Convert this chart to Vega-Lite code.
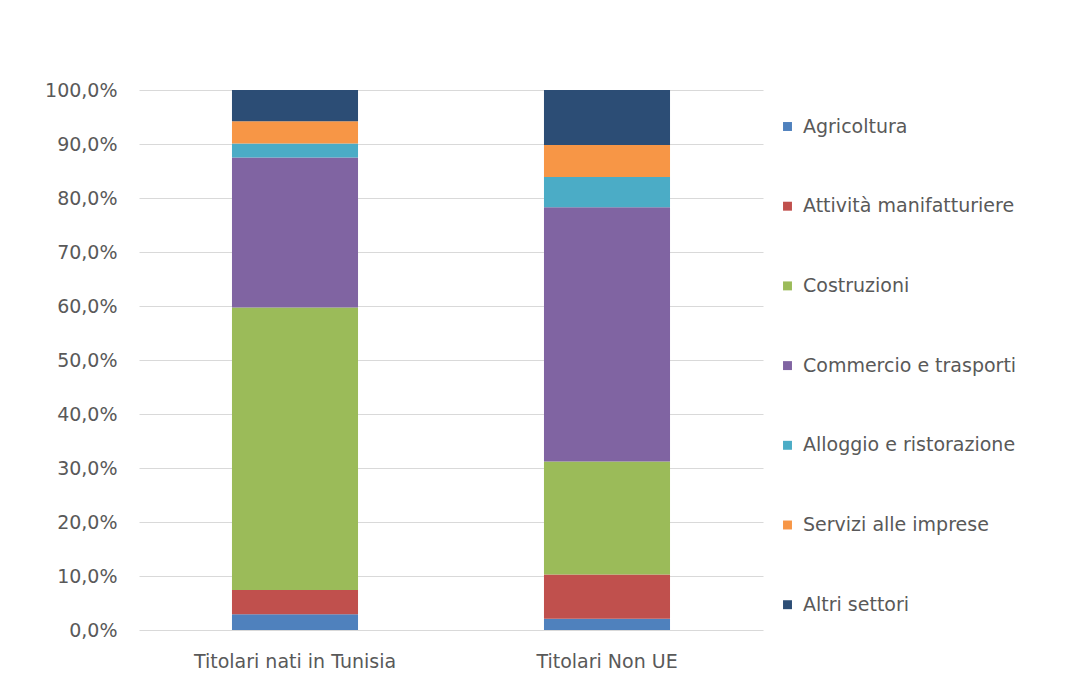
{
  "$schema": "https://vega.github.io/schema/vega-lite/v6.json",
  "width": 624,
  "height": 540,
  "autosize": {"type": "none"},
  "padding": {"left": 139, "top": 90, "right": 306, "bottom": 67},
  "background": "white",
  "config": {
    "font": "DejaVu Sans",
    "view": {"stroke": null},
    "axis": {"labelColor": "#595959", "labelFont": "DejaVu Sans", "labelFontSize": 19}
  },
  "data": {
    "values": [
      {"gruppo": "Titolari nati in Tunisia", "settore": "Agricoltura", "ordine": 1, "valore": 2.9},
      {"gruppo": "Titolari nati in Tunisia", "settore": "Attività manifatturiere", "ordine": 2, "valore": 4.5},
      {"gruppo": "Titolari nati in Tunisia", "settore": "Costruzioni", "ordine": 3, "valore": 52.3},
      {"gruppo": "Titolari nati in Tunisia", "settore": "Commercio e trasporti", "ordine": 4, "valore": 27.8},
      {"gruppo": "Titolari nati in Tunisia", "settore": "Alloggio e ristorazione", "ordine": 5, "valore": 2.6},
      {"gruppo": "Titolari nati in Tunisia", "settore": "Servizi alle imprese", "ordine": 6, "valore": 4.1},
      {"gruppo": "Titolari nati in Tunisia", "settore": "Altri settori", "ordine": 7, "valore": 5.8},
      {"gruppo": "Titolari Non UE", "settore": "Agricoltura", "ordine": 1, "valore": 2.1},
      {"gruppo": "Titolari Non UE", "settore": "Attività manifatturiere", "ordine": 2, "valore": 8.2},
      {"gruppo": "Titolari Non UE", "settore": "Costruzioni", "ordine": 3, "valore": 20.9},
      {"gruppo": "Titolari Non UE", "settore": "Commercio e trasporti", "ordine": 4, "valore": 47.1},
      {"gruppo": "Titolari Non UE", "settore": "Alloggio e ristorazione", "ordine": 5, "valore": 5.6},
      {"gruppo": "Titolari Non UE", "settore": "Servizi alle imprese", "ordine": 6, "valore": 5.9},
      {"gruppo": "Titolari Non UE", "settore": "Altri settori", "ordine": 7, "valore": 10.2}
    ]
  },
  "mark": {"type": "bar"},
  "encoding": {
    "x": {
      "field": "gruppo",
      "type": "nominal",
      "sort": ["Titolari nati in Tunisia", "Titolari Non UE"],
      "scale": {"paddingInner": 0.596, "paddingOuter": 0.298},
      "axis": {"title": null, "labelAngle": 0, "domain": false, "ticks": false, "labelPadding": 22, "labelLimit": 400}
    },
    "y": {
      "field": "valore",
      "type": "quantitative",
      "stack": "zero",
      "scale": {"domain": [0, 100], "nice": false},
      "axis": {
        "title": null,
        "values": [0, 10, 20, 30, 40, 50, 60, 70, 80, 90, 100],
        "labelExpr": "replace(format(datum.value, '.1f'), '.', ',') + '%'",
        "domain": false,
        "ticks": false,
        "labelPadding": 22,
        "grid": true,
        "gridColor": "#d9d9d9",
        "gridWidth": 1
      }
    },
    "order": {"field": "ordine", "type": "quantitative", "sort": "ascending"},
    "color": {
      "field": "settore",
      "type": "nominal",
      "sort": ["Agricoltura", "Attività manifatturiere", "Costruzioni", "Commercio e trasporti", "Alloggio e ristorazione", "Servizi alle imprese", "Altri settori"],
      "scale": {
        "domain": ["Agricoltura", "Attività manifatturiere", "Costruzioni", "Commercio e trasporti", "Alloggio e ristorazione", "Servizi alle imprese", "Altri settori"],
        "range": ["#4F81BD", "#C0504D", "#9BBB59", "#8064A2", "#4BACC6", "#F79646", "#2C4D75"]
      },
      "legend": {
        "title": null,
        "orient": "none",
        "legendX": 639,
        "legendY": 27,
        "symbolType": "square",
        "symbolSize": 80,
        "symbolStrokeWidth": 0,
        "labelFontSize": 19,
        "labelColor": "#595959",
        "labelFont": "DejaVu Sans",
        "labelLimit": 300,
        "rowPadding": 59.7,
        "labelOffset": 6
      }
    }
  }
}
